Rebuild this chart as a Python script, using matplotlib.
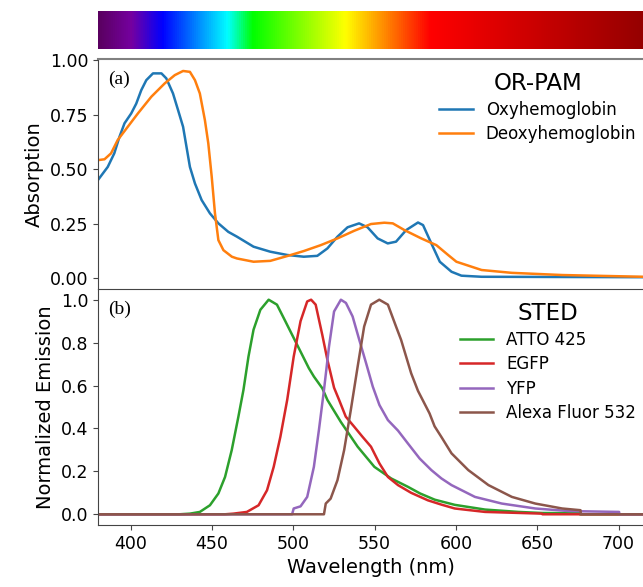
import matplotlib
matplotlib.use("Agg")
import matplotlib.pyplot as plt
import matplotlib.colors as mc
import numpy as np

# ---- absorption (panel a) ----
oxy_wl = [380, 386, 390, 393.2, 396.3, 400.4, 403.5, 406.6, 409.7, 413.8, 419, 422,
          426.1, 429.2, 432.3, 434.4, 436.5, 439.6, 443.7, 448.8, 454, 460.1, 465.4,
          475.6, 485.9, 496.3, 506.5, 514.8, 521, 527.2, 533.4, 540.5, 545.7, 551.9,
          558.1, 563.2, 569.4, 576.7, 579.8, 584.9, 590.1, 597.3, 603.4, 615.8, 715]
oxy_abs = [0.45, 0.51, 0.572, 0.648, 0.71, 0.755, 0.80, 0.862, 0.908, 0.939, 0.939, 0.916,
           0.847, 0.771, 0.694, 0.602, 0.51, 0.434, 0.358, 0.297, 0.251, 0.212, 0.19,
           0.144, 0.121, 0.106, 0.098, 0.102, 0.136, 0.19, 0.233, 0.251, 0.233, 0.182,
           0.159, 0.167, 0.22, 0.255, 0.243, 0.159, 0.075, 0.029, 0.011, 0.006, 0.004]

deoxy_wl = [380, 384, 388, 392.1, 398.3, 404.5, 412.8, 421, 427.2, 432.3, 436.5, 439.6,
            442.6, 445.7, 447.8, 449.9, 451.9, 454, 457.1, 462.3, 465.4, 475.6, 485.9,
            496.3, 506.5, 516.9, 527.2, 537.5, 547.8, 556, 561.2, 568.4, 578.7, 588,
            595.2, 600.3, 615.8, 634.4, 665.3, 715]
deoxy_abs = [0.541, 0.545, 0.572, 0.633, 0.694, 0.755, 0.832, 0.893, 0.931, 0.95, 0.946, 0.908,
             0.847, 0.725, 0.618, 0.465, 0.297, 0.174, 0.128, 0.098, 0.09, 0.075, 0.079,
             0.101, 0.124, 0.151, 0.182, 0.217, 0.248, 0.254, 0.251, 0.22, 0.182, 0.151,
             0.106, 0.075, 0.037, 0.024, 0.014, 0.006]

# ---- emission (panel b) ----
atto_wl = [380, 430, 436.5, 442.6, 448.8, 454, 458.1, 462.2, 466.3, 469.4, 472.5, 475.6,
           479.8, 484.9, 490, 495.2, 502.4, 509.6, 512.7, 517.9, 521, 529.3, 539.6, 549.9,
           560.2, 570.5, 578, 587, 599.3, 617.9, 638.5, 652.9, 676, 676.2, 715]
atto_em = [0, 0, 0.003, 0.011, 0.042, 0.097, 0.174, 0.299, 0.455, 0.579, 0.735, 0.86,
           0.953, 1.0, 0.977, 0.899, 0.79, 0.681, 0.642, 0.587, 0.533, 0.43, 0.315, 0.221,
           0.167, 0.128, 0.097, 0.068, 0.044, 0.022, 0.011, 0.006, 0.005, 0, 0]

egfp_wl = [380, 458, 463.2, 471.5, 478.7, 483.9, 488, 492.1, 496.3, 500.3, 504.5, 508.6,
           511, 513.8, 517.9, 521, 525.1, 528.2, 532.3, 537.5, 542.6, 547.8, 553, 558.2,
           564.4, 572.5, 582.8, 591.1, 599.3, 617.9, 653, 653.2, 715]
egfp_em = [0, 0, 0.003, 0.011, 0.042, 0.112, 0.221, 0.361, 0.533, 0.735, 0.90, 0.992,
           1.0, 0.977, 0.835, 0.72, 0.59, 0.533, 0.455, 0.408, 0.361, 0.315, 0.237, 0.174,
           0.136, 0.10, 0.065, 0.045, 0.027, 0.011, 0.003, 0, 0]

yfp_wl = [380, 499.3, 500.3, 504.5, 508.6, 512.7, 515.8, 518.9, 522, 525.1, 529.3, 532.4,
          536.5, 540.6, 544.8, 548.9, 553, 558.2, 564.4, 570.5, 577.7, 584.9, 591.1, 597.3,
          611.7, 628.2, 648.8, 669.4, 700.3, 700.5, 715]
yfp_em = [0, 0, 0.027, 0.037, 0.081, 0.221, 0.393, 0.579, 0.782, 0.945, 1.0, 0.985,
          0.922, 0.813, 0.704, 0.595, 0.509, 0.439, 0.39, 0.33, 0.26, 0.206, 0.167, 0.136,
          0.081, 0.05, 0.027, 0.015, 0.011, 0, 0]

alexa_wl = [380, 518.9, 520, 523, 527.2, 531.3, 535.4, 539.6, 543.6, 547.8, 552.9, 558.2,
            563.2, 566.3, 569.4, 572.5, 576.7, 583.8, 586.9, 591.1, 597.3, 607.6, 620,
            634.4, 648.8, 665.3, 676.6, 676.8, 715]
alexa_em = [0, 0, 0.05, 0.073, 0.159, 0.299, 0.486, 0.688, 0.875, 0.977, 1.0, 0.977,
            0.875, 0.813, 0.735, 0.657, 0.575, 0.47, 0.41, 0.36, 0.284, 0.206, 0.136,
            0.081, 0.05, 0.027, 0.019, 0, 0]

# spectrum bar stops (fraction of bar width, colour)
bar_stops = [(0.0, "#5a0060"), (0.06, "#7500a0"), (0.117, "#0000ff"), (0.237, "#00ffff"),
             (0.283, "#00ff00"), (0.453, "#ffff00"), (0.609, "#ff0000"), (1.0, "#950000")]

plt.rcParams["font.family"] = "DejaVu Sans"

fig = plt.figure(figsize=(6.43, 5.87), dpi=100)
ax_bar = fig.add_axes([0.1524, 0.9165, 0.8476, 0.0647])
ax_a = fig.add_axes([0.1524, 0.5077, 0.8476, 0.3918])
ax_b = fig.add_axes([0.1524, 0.1056, 0.8476, 0.4021])

cmap = mc.LinearSegmentedColormap.from_list("spec", bar_stops)
ax_bar.imshow(np.linspace(0, 1, 512)[None, :], aspect="auto", cmap=cmap)
ax_bar.set_axis_off()

leg_kw = dict(loc="upper right", frameon=False, fontsize=12, title_fontsize=16.5,
              handlelength=2.0, borderaxespad=0.0, labelspacing=0.38)

ax_a.plot(oxy_wl, oxy_abs, color="#1f77b4", lw=1.8, label="Oxyhemoglobin")
ax_a.plot(deoxy_wl, deoxy_abs, color="#ff7f0e", lw=1.8, label="Deoxyhemoglobin")
ax_a.set_xlim(380, 715)
ax_a.set_ylim(-0.05, 1.005)
ax_a.set_yticks([0, 0.25, 0.5, 0.75, 1.0])
ax_a.set_yticklabels(["0.00", "0.25", "0.50", "0.75", "1.00"])
ax_a.tick_params(axis="x", bottom=False, labelbottom=False)
ax_a.set_ylabel("Absorption", fontsize=14)
ax_a.legend(title="OR-PAM", bbox_to_anchor=(1.0, 0.974), **leg_kw)
ax_a.text(0.018, 0.95, "(a)", transform=ax_a.transAxes, family="Liberation Serif",
          fontsize=14, va="top")

ax_b.plot(atto_wl, atto_em, color="#2ca02c", lw=1.8, label="ATTO 425")
ax_b.plot(egfp_wl, egfp_em, color="#d62728", lw=1.8, label="EGFP")
ax_b.plot(yfp_wl, yfp_em, color="#9467bd", lw=1.8, label="YFP")
ax_b.plot(alexa_wl, alexa_em, color="#8c564b", lw=1.8, label="Alexa Fluor 532")
ax_b.set_xlim(380, 715)
ax_b.set_ylim(-0.05, 1.05)
ax_b.set_yticks([0, 0.2, 0.4, 0.6, 0.8, 1.0])
ax_b.set_xticks([400, 450, 500, 550, 600, 650, 700])
ax_b.set_xlabel("Wavelength (nm)", fontsize=14)
ax_b.set_ylabel("Normalized Emission", fontsize=14)
ax_b.legend(title="STED", bbox_to_anchor=(1.0, 0.975), **leg_kw)
ax_b.text(0.018, 0.95, "(b)", transform=ax_b.transAxes, family="Liberation Serif",
          fontsize=14, va="top")

for ax in (ax_a, ax_b):
    ax.spines["right"].set_visible(False)
    ax.spines["left"].set_color("#444444")
    ax.spines["bottom"].set_color("#444444")
    ax.tick_params(labelsize=12.5, color="#444444")
ax_a.spines["top"].set_color("#808080")
ax_a.spines["top"].set_linewidth(1.5)
ax_a.spines["bottom"].set_visible(False)
ax_b.spines["top"].set_color("#444444")

fig.savefig("out.png", dpi=100)
